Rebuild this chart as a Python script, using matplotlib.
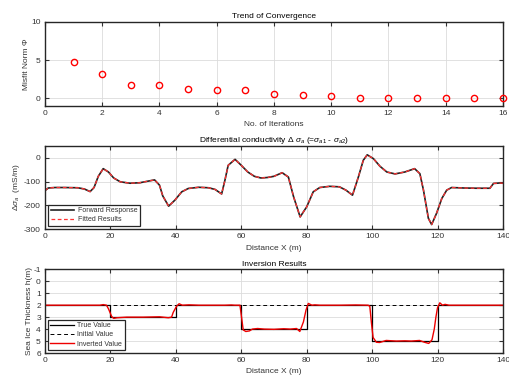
import matplotlib
matplotlib.use("Agg")
import matplotlib.pyplot as plt

plt.rcParams['font.family'] = ['Liberation Sans', 'DejaVu Sans']
plt.rcParams['mathtext.fontset'] = 'custom'
plt.rcParams['mathtext.rm'] = 'Liberation Sans'
plt.rcParams['mathtext.it'] = 'Liberation Sans:italic'
plt.rcParams['font.size'] = 6
plt.rcParams['axes.unicode_minus'] = False

# convergence
iterations = list(range(1, 17))
misfit = [4.8, 3.15, 1.77, 1.77, 1.2, 1.15, 1.1, 0.55, 0.38, 0.33,
          0.1, 0.1, 0.1, 0.05, 0.03, 0.02]

# differential conductivity
dist = [0, 1, 3, 6, 10, 12, 13.8, 15, 16.3, 17.8, 19.4, 21, 23, 26, 29, 32,
        33.5, 35, 36, 37.8, 39.7, 41.8, 43.8, 47, 50, 52, 54, 55, 56, 58.1,
        60, 62, 64, 66, 68, 70, 72.5, 74.4, 76, 78, 80, 82, 84, 87, 90, 92,
        94, 95.8, 97.3, 98.5, 100.4, 102.4, 104.5, 107, 110, 113, 114.6,
        115.7, 117.2, 118.2, 119.7, 121.3, 122.8, 124.3, 128, 132, 136,
        137.1, 139, 140]
forward = [-138, -127, -125, -125, -126, -131, -142, -125, -78, -46, -60,
           -85, -101, -107, -105, -97, -93, -115, -160, -203, -178, -143,
           -129, -124, -126, -133, -152, -95, -32, -7, -32, -60, -78, -85,
           -83, -78, -63, -81, -164, -248, -206, -143, -125, -120, -122,
           -136, -157, -81, -11, 12, -4, -36, -60, -68, -60, -46, -67, -136,
           -254, -280, -233, -171, -136, -125, -127, -128, -128, -108, -106,
           -107]
fitted = list(forward)

# inversion
true_x = [0, 20, 20, 40, 40, 60, 60, 80, 80, 100, 100, 120, 120, 140]
true_h = [2, 2, 3, 3, 2, 2, 4, 4, 2, 2, 5, 5, 2, 2]
init_x = [0, 140]
init_h = [2, 2]
inv_x = [0, 16.8, 17.8, 18.8, 19.4, 20.4, 21, 22, 25, 30, 35, 37.7, 38.7,
         39.2, 40.2, 41, 42, 44, 47, 50, 55, 57, 58, 59.6, 60.6, 61.4, 62.5,
         63.4, 65, 67, 70, 73, 75, 76.9, 77.9, 79, 79.8, 80.5, 81.6, 82.5,
         84, 90, 95, 98.8, 99.3, 99.8, 100.3, 101.3, 102.3, 104.3, 107.4,
         110, 112, 114.5, 116, 117.3, 118.3, 119, 119.5, 120, 120.7, 121.5,
         122.3, 123.5, 126, 140]
inv_h = [2, 2, 1.95, 2.0, 2.3, 2.95, 3.1, 3.05, 3.0, 3.0, 2.97, 3.05, 3.0,
         2.6, 2.1, 1.88, 2.0, 1.97, 2.0, 2.0, 2.0, 1.98, 2.0, 2.0, 4.07, 4.2,
         4.15, 4.0, 3.95, 4.0, 4.02, 3.97, 4.0, 3.95, 4.2, 3.4, 2.4, 1.85,
         2.0, 1.97, 2.0, 2.0, 1.98, 2.0, 2.1, 3.5, 4.7, 5.1, 5.12, 4.95, 5.0,
         4.98, 5.0, 4.95, 5.1, 5.2, 4.9, 4.0, 3.0, 2.2, 1.8, 2.0, 1.93, 2.0,
         2.0, 2.0]

text_col = '#333333'


def style(ax):
    ax.grid(True, color='#dcdcdc', linewidth=0.6)
    ax.set_axisbelow(True)
    ax.tick_params(direction='in', top=True, right=True, length=3,
                   width=0.8, colors=text_col, labelsize=6, pad=3)
    for s in ax.spines.values():
        s.set_linewidth(1.0)
        s.set_color('#262626')


def legend(ax, pad):
    leg = ax.legend(loc='lower left', fontsize=5, fancybox=False,
                    edgecolor='#262626', framealpha=1, handlelength=3.4,
                    borderpad=0.35, labelspacing=0.35, handletextpad=0.5,
                    borderaxespad=pad)
    leg.get_frame().set_linewidth(0.9)
    for t in leg.get_texts():
        t.set_color(text_col)


fig = plt.figure(figsize=(5.1, 3.82), dpi=100)

ax1 = fig.add_axes([0.0882, 0.7225, 0.898, 0.22])
ax1.plot(iterations, misfit, 'o', mfc='none', mec='red', ms=4.5, mew=1,
         clip_on=False, zorder=3)
ax1.set_xlim(0, 16)
ax1.set_ylim(-1, 10)
ax1.set_xticks(range(0, 17, 2))
ax1.set_yticks([0, 5, 10])
ax1.set_xlabel('No. of Iterations', color=text_col, labelpad=3)
ax1.set_ylabel('Misfit Norm \u03a6', color=text_col, labelpad=1)
ax1.set_title('Trend of Convergence', color='black', pad=2.5, fontsize=6)
style(ax1)

ax2 = fig.add_axes([0.0882, 0.3997, 0.898, 0.2188])
ax2.plot(dist, forward, color='#222222', lw=1.2, label='Forward Response')
ax2.plot(dist, fitted, color='#ff3333', lw=0.9, ls=(0, (3, 2)),
         label='Fitted Results')
ax2.set_xlim(0, 140)
ax2.set_ylim(-300, 50)
ax2.set_xticks(range(0, 141, 20))
ax2.set_yticks([-300, -200, -100, 0])
ax2.set_xlabel('Distance X (m)', color=text_col, labelpad=3)
ax2.set_ylabel(r'$\Delta\sigma_a$  (mS/m)', color=text_col, labelpad=1.5)
ax2.set_title(r'Differential conductivity $\Delta$ $\sigma_a$ (=$\sigma_{a1}$ - $\sigma_{a2}$)',
              color='black', pad=2.5, fontsize=6)
legend(ax2, 0.5)
style(ax2)

ax3 = fig.add_axes([0.0882, 0.0759, 0.898, 0.219])
ax3.plot(true_x, true_h, color='black', lw=0.9, label='True Value')
ax3.plot(init_x, init_h, color='black', lw=0.7, ls=(0, (4, 3)),
         label='Initial Value')
ax3.plot(inv_x, inv_h, color='#ee0000', lw=1.0, label='Inverted Value')
ax3.set_xlim(0, 140)
ax3.set_ylim(6, -1)
ax3.set_xticks(range(0, 141, 20))
ax3.set_yticks(range(-1, 7))
ax3.set_xlabel('Distance X (m)', color=text_col, labelpad=3)
ax3.set_ylabel('Sea Ice Thickness h(m)', color=text_col, labelpad=0.5)
ax3.set_title('Inversion Results', color='black', pad=2.5, fontsize=6)
legend(ax3, 0.4)
style(ax3)

fig.savefig('out.png', dpi=100)
